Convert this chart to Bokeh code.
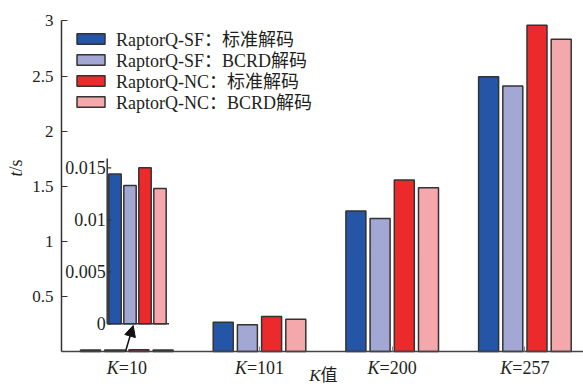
import math
from bokeh.plotting import figure
from bokeh.models import (Range1d, FixedTicker, NumeralTickFormatter, Arrow,
                          NormalHead, Legend, LegendItem, ColumnDataSource)
from bokeh.transform import dodge
from bokeh.core.properties import value
from bokeh.embed import file_html
from bokeh.resources import INLINE

# ---------------- data ----------------
k_values = [10, 101, 200, 257]
series_names = ["RaptorQ-SF：标准解码", "RaptorQ-SF：BCRD解码",
                "RaptorQ-NC：标准解码", "RaptorQ-NC：BCRD解码"]
sf_std = [0.0144, 0.265, 1.276, 2.495]
sf_bcrd = [0.0133, 0.242, 1.208, 2.410]
nc_std = [0.0150, 0.317, 1.556, 2.961]
nc_bcrd = [0.0130, 0.292, 1.487, 2.835]
colors = ["#2555a6", "#a3a7d3", "#ec2a2c", "#f5a8ab"]
y_ticks = [0.5, 1, 1.5, 2, 2.5, 3]
inset_ticks = [0, 0.005, 0.01, 0.015]
inset_tick_labels = ["0", "0.005", "0.01", "0.015"]

SERIF = "Liberation Serif, serif"
FONT = "Liberation Serif, Noto Sans CJK SC, serif"
TXT = "#231f20"
EDGE = "#333333"
W, H = 583, 388

# ---------------- layout helpers (pixel -> data) ----------------
PXX = 132.7              # pixels per group
X0 = 1 - 126.3 / PXX     # data x at left edge of canvas
PXY = 110.17             # pixels per second
Y_AXIS_PX = 351          # pixel row of t = 0
Y0 = -(H - Y_AXIS_PX) / PXY


def px2x(px):
    return X0 + px / PXX


def px2y(py):
    return (Y_AXIS_PX - py) / PXY


series = [sf_std, sf_bcrd, nc_std, nc_bcrd]
xs = [i + 1 for i in range(len(k_values))]
src = ColumnDataSource(dict(x=xs, s0=sf_std, s1=sf_bcrd, s2=nc_std, s3=nc_bcrd))

p = figure(width=W, height=H, output_backend="svg", toolbar_location=None,
           x_range=Range1d(X0, X0 + W / PXX), y_range=Range1d(Y0, Y0 + H / PXY),
           min_border=0)
p.outline_line_color = None
p.grid.visible = False
p.background_fill_color = "white"

# main bars
offsets = [-36.3 / PXX, -12.1 / PXX, 12.1 / PXX, 36.3 / PXX]
bar_w = 20 / PXX
renderers = []
for j in range(4):
    r = p.vbar(x=dodge("x", offsets[j], range=p.x_range), top="s%d" % j, bottom=0,
               width=bar_w, source=src, fill_color=colors[j], line_color=EDGE,
               line_width=1.5)
    renderers.append(r)

axis_x = px2x(61)

# y axis (fixed at the left edge of the plotting area)
yax = p.yaxis[0]
yax.fixed_location = axis_x
yax.bounds = (0, 3)
yax.ticker = FixedTicker(ticks=y_ticks)
yax.formatter = NumeralTickFormatter(format="0.[0]")
yax.major_tick_in = 6
yax.major_tick_out = 0
yax.minor_tick_line_color = None
yax.axis_line_color = EDGE
yax.axis_line_width = 1.5
yax.major_tick_line_color = EDGE
yax.major_tick_line_width = 1.2
yax.major_label_text_font = SERIF
yax.major_label_text_font_size = "17px"
yax.major_label_text_color = TXT
yax.major_label_standoff = 8

# x axis (fixed at t = 0)
xax = p.xaxis[0]
xax.fixed_location = 0
xax.bounds = (axis_x, X0 + W / PXX)
xax.ticker = FixedTicker(ticks=xs)
xax.major_tick_in = 5
xax.major_tick_out = 0
xax.minor_tick_line_color = None
xax.axis_line_color = "#444444"
xax.axis_line_width = 1.5
xax.major_tick_line_color = "#888888"
xax.major_label_text_alpha = 0

# x tick labels: italic K + "=value"
lab_y = px2y(367)
k_x, k_off, r_txt = [], [], []
for x, k in zip(xs, k_values):
    rest = "=%d" % k
    w_rest = 18 * (0.564 + 0.5 * len(str(k)))
    k_x.append(x)
    k_off.append(12 - (12 + w_rest) / 2)
    r_txt.append(rest)
lab_src = ColumnDataSource(dict(x=k_x, y=[lab_y] * len(k_x), off=k_off,
                                k=["K"] * len(k_x), rest=r_txt))
p.text(x="x", y="y", text="k", x_offset="off", source=lab_src, text_align="right",
       text_baseline="alphabetic", text_font=value(SERIF),
       text_font_style=value("italic"), text_font_size="18px", text_color=TXT)
p.text(x="x", y="y", text="rest", x_offset="off", source=lab_src, text_align="left",
       text_baseline="alphabetic", text_font=value(SERIF),
       text_font_size="18px", text_color=TXT)

# x axis title "K值"
xt_x, xt_y = px2x(320), px2y(375)
p.text(x=[xt_x], y=[xt_y], text=["K"], text_align="right", text_baseline="alphabetic",
       text_font=value(SERIF), text_font_style=value("italic"),
       text_font_size="17px", text_color=TXT)
p.text(x=[xt_x], y=[xt_y], text=["值"], text_align="left", text_baseline="alphabetic",
       text_font=value(FONT), text_font_size="17px", text_color=TXT)

# y axis title "t/s"
yt_x, yt_y = px2x(15), px2y(171)
p.text(x=[yt_x], y=[yt_y], text=["t"], text_align="right", text_baseline="middle",
       angle=math.pi / 2, text_font=value(SERIF),
       text_font_style=value("italic"), text_font_size="18px", text_color=TXT)
p.text(x=[yt_x], y=[yt_y], text=["/s"], text_align="left", text_baseline="middle",
       angle=math.pi / 2, text_font=value(SERIF), text_font_size="18px",
       text_color=TXT)

# ---------------- inset (zoom on K=10) ----------------
IPX = 15.0          # pixels per inset bar slot
IX0 = -114.5 / IPX  # inset x at left edge of canvas
IPY = 10400.0       # pixels per second in the inset
I_AXIS_PX = 323.3
p.extra_x_ranges = {"inset": Range1d(IX0, IX0 + W / IPX)}
p.extra_y_ranges = {"inset": Range1d(-(H - I_AXIS_PX) / IPY, I_AXIS_PX / IPY)}
inset_src = ColumnDataSource(dict(x=[0, 1, 2, 3], top=[s[0] for s in series],
                                  color=colors))
p.vbar(x="x", top="top", bottom=0, width=12.4 / IPX, source=inset_src,
       fill_color="color", line_color=EDGE, line_width=1.5,
       x_range_name="inset", y_range_name="inset")
iax_x = IX0 + 106.7 / IPX
iax_end = IX0 + 168.5 / IPX
iax_top = (I_AXIS_PX - 158) / IPY
p.segment(x0=[iax_x, iax_x], y0=[0, 0], x1=[iax_x, iax_end], y1=[iax_top, 0],
          line_color=EDGE, line_width=1.5, x_range_name="inset", y_range_name="inset")
p.segment(x0=[iax_x] * 4, x1=[iax_x + 4 / IPX] * 4, y0=inset_ticks, y1=inset_ticks,
          line_color=EDGE, line_width=1.2, x_range_name="inset", y_range_name="inset")
p.text(x=[iax_x - 1.5 / IPX] * 4, y=inset_ticks, text=inset_tick_labels,
       text_align="right", text_baseline="middle", text_font=value(SERIF),
       text_font_size="18px", text_color=TXT, x_range_name="inset", y_range_name="inset")

# arrow from K=10 group to inset
p.add_layout(Arrow(end=NormalHead(size=11, fill_color="#111111", line_color="#111111"),
                   x_start=px2x(125), y_start=0, x_end=px2x(132.7), y_end=px2y(325),
                   line_color="#111111", line_width=1.5))

# legend: one single-row legend per series, stacked 21 px apart
row_centers = [37.3, 58.3, 79.3, 100.7]
for name, r, c in zip(series_names, renderers, row_centers):
    lg = Legend(items=[LegendItem(label=name, renderers=[r])],
                location=(73, round(H - c - 13.25)), label_text_font=FONT,
                label_text_font_size="18px", label_text_color=TXT, glyph_width=35,
                glyph_height=13, label_standoff=8, spacing=0, label_height=20,
                padding=0, margin=0, border_line_alpha=0, background_fill_alpha=0)
    p.add_layout(lg)

open("out.html", "w").write(file_html(p, INLINE))
